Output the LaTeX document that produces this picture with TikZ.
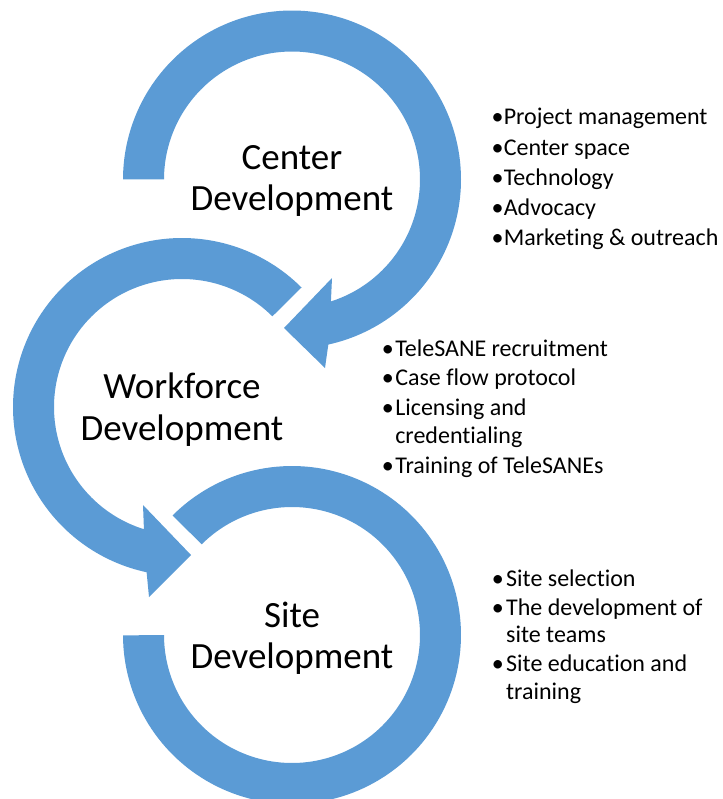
\documentclass[tikz,border=0pt]{standalone}
\usepackage{fontspec}
\setmainfont{Carlito}[Ligatures=NoCommon]
\definecolor{ringblue}{RGB}{91,155,213}
\tikzset{
  ring/.style={fill=ringblue, draw=none},
  biglabel/.style={font=\fontsize{37}{41}\selectfont, inner sep=0pt, anchor=base},
  listtext/.style={font=\fontsize{24}{27.5}\selectfont, inner sep=0pt, anchor=base west},
}
\newcommand\bulw[1]{\makebox[#1][l]{•}}
\begin{document}
\begin{tikzpicture}[x=1pt,y=-1pt]
\path[use as bounding box] (0,0) rectangle (722,799);
\clip (0,0) rectangle (722,799);

% Ring 1: Center Development
\fill[ring] plot[domain=0:1,samples=160,variable=\s] ({292+169*cos(180+257.7*\s)},{179.5+169*sin(180+257.7*\s)})
  -- (325,368) -- (284,328) -- (332,278)
  -- plot[domain=0:1,samples=160,variable=\s] ({292+128*cos(432.3-252.3*\s)},{179.5+128*sin(432.3-252.3*\s)})
  -- cycle;

% Ring 2: Workforce Development
\fill[ring] plot[domain=0:1,samples=160,variable=\s] ({182+169*cos(315-213*\s)},{407+169*sin(315-213*\s)})
  -- (149,597) -- (191,555) -- (143,505)
  -- plot[domain=0:1,samples=160,variable=\s] ({182+128*cos(107.3+207.7*\s)},{407+128*sin(107.3+207.7*\s)})
  -- cycle;

% Ring 3: Site Development
\fill[ring] plot[domain=0:1,samples=160,variable=\s] ({292+169*cos(225+315*\s)},{635+169*sin(225+315*\s)})
  -- plot[domain=0:1,samples=160,variable=\s] ({292+128*cos(540-315*\s)},{635+128*sin(540-315*\s)})
  -- cycle;

% Labels
\node[biglabel] (centerlabel) at (292,170) {\begin{tabular}[t]{@{}c@{}}Center\\Development\end{tabular}};
\node[biglabel] (workforcelabel) at (182,398) {\begin{tabular}[t]{@{}c@{}}Workforce\\[1pt]Development\end{tabular}};
\node[biglabel] (sitelabel) at (292,627) {\begin{tabular}[t]{@{}c@{}}Site\\Development\end{tabular}};

% Lists
\node[listtext] (centerlist) at (491.3,125) {\begin{tabular}[t]{@{}l@{}}
\bulw{12.3pt}Project management\\[2.7pt]
\bulw{12.3pt}Center space\\[2.7pt]
\bulw{12.3pt}Technology\\[2.7pt]
\bulw{12.3pt}Advocacy\\[2.7pt]
\bulw{12.3pt}Marketing \& outreach
\end{tabular}};

\node[listtext] (workforcelist) at (381.6,356) {\begin{tabular}[t]{@{}l@{}}
\bulw{13.5pt}TeleSANE recruitment\\[1.5pt]
\bulw{13.5pt}Case flow protocol\\[3pt]
\bulw{13.5pt}Licensing and\\
\hspace*{13.5pt}credentialing\\[2.5pt]
\bulw{13.5pt}Training of TeleSANEs
\end{tabular}};

\node[listtext] (sitelist) at (491.6,586) {\begin{tabular}[t]{@{}l@{}}
\bulw{14.4pt}Site selection\\[1.5pt]
\bulw{14.4pt}The development of\\
\hspace*{14.4pt}site teams\\[1.5pt]
\bulw{14.4pt}Site education and\\
\hspace*{14.4pt}training
\end{tabular}};
\end{tikzpicture}
\end{document}
